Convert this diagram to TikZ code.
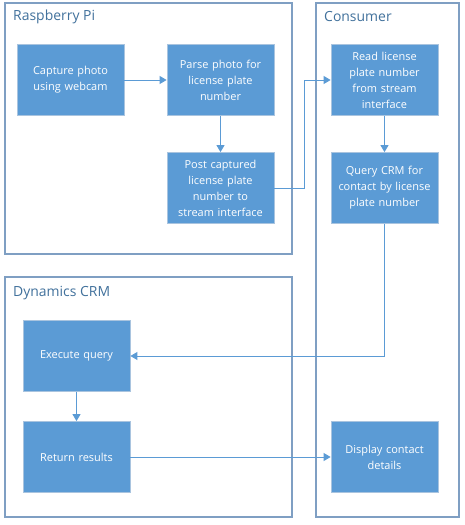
\documentclass[tikz,border=0pt]{standalone}
\usepackage{fontspec}
\setmainfont{Open Sans}
\usetikzlibrary{arrows.meta}
\definecolor{boxfill}{HTML}{5B9BD5}
\definecolor{boxedge}{HTML}{A9C4DF}
\definecolor{frameedge}{HTML}{7F9FC3}
\definecolor{titlecol}{HTML}{41719C}
\definecolor{linkcol}{HTML}{5B9BD5}
\tikzset{
  frame/.style={draw=frameedge, line width=1.1bp},
  title/.style={anchor=west, text=titlecol, font=\fontsize{14}{16}\selectfont, inner sep=0pt},
  stepbox/.style={draw=boxedge, fill=boxfill, line width=0.8bp, text=white,
    font=\fontsize{11}{16}\selectfont, align=center, inner sep=0pt,
    minimum width=107bp, minimum height=71bp, text width=106bp},
  link/.style={draw=linkcol, line width=0.9bp, -{Triangle[length=7bp,width=8bp]}},
}
\begin{document}
\begin{tikzpicture}[x=1bp,y=-1bp]
\useasboundingbox (0,0) rectangle (465,525);
\fill[white] (0,0) rectangle (465,525);
% frames
\draw[frame] (5,3) rectangle (292,254);
\draw[frame] (316,3) rectangle (459,517);
\draw[frame] (5,277) rectangle (292,517);
\node[title] (trp) at (13,17) {Raspberry Pi};
\node[title] (tcon) at (324,17) {Consumer};
\node[title] (tcrm) at (13,293) {Dynamics CRM};
% boxes
\node[stepbox] (cap) at (70.5,80) {Capture photo\\using webcam};
\node[stepbox] (parse) at (220.5,80) {Parse photo for\\license plate\\number};
\node[stepbox] (post) at (220.5,188) {Post captured\\license plate\\number to\\stream interface};
\node[stepbox] (read) at (384.5,80) {Read license\\plate number\\from stream\\interface};
\node[stepbox] (query) at (384.5,188) {Query CRM for\\contact by license\\plate number};
\node[stepbox] (exec) at (76.5,356) {Execute query};
\node[stepbox] (ret) at (76.5,457) {Return results};
\node[stepbox] (disp) at (384.5,457) {Display contact\\details};
% connectors
\draw[link] (cap) -- (parse);
\draw[link] (parse) -- (post);
\draw[link] (post.east) -- (304,188) -- (304,80) -- (read.west);
\draw[link] (read) -- (query);
\draw[link] (query.south) -- (384.5,356) -- (exec.east);
\draw[link] (exec) -- (ret);
\draw[link] (ret) -- (disp);
\end{tikzpicture}
\end{document}
